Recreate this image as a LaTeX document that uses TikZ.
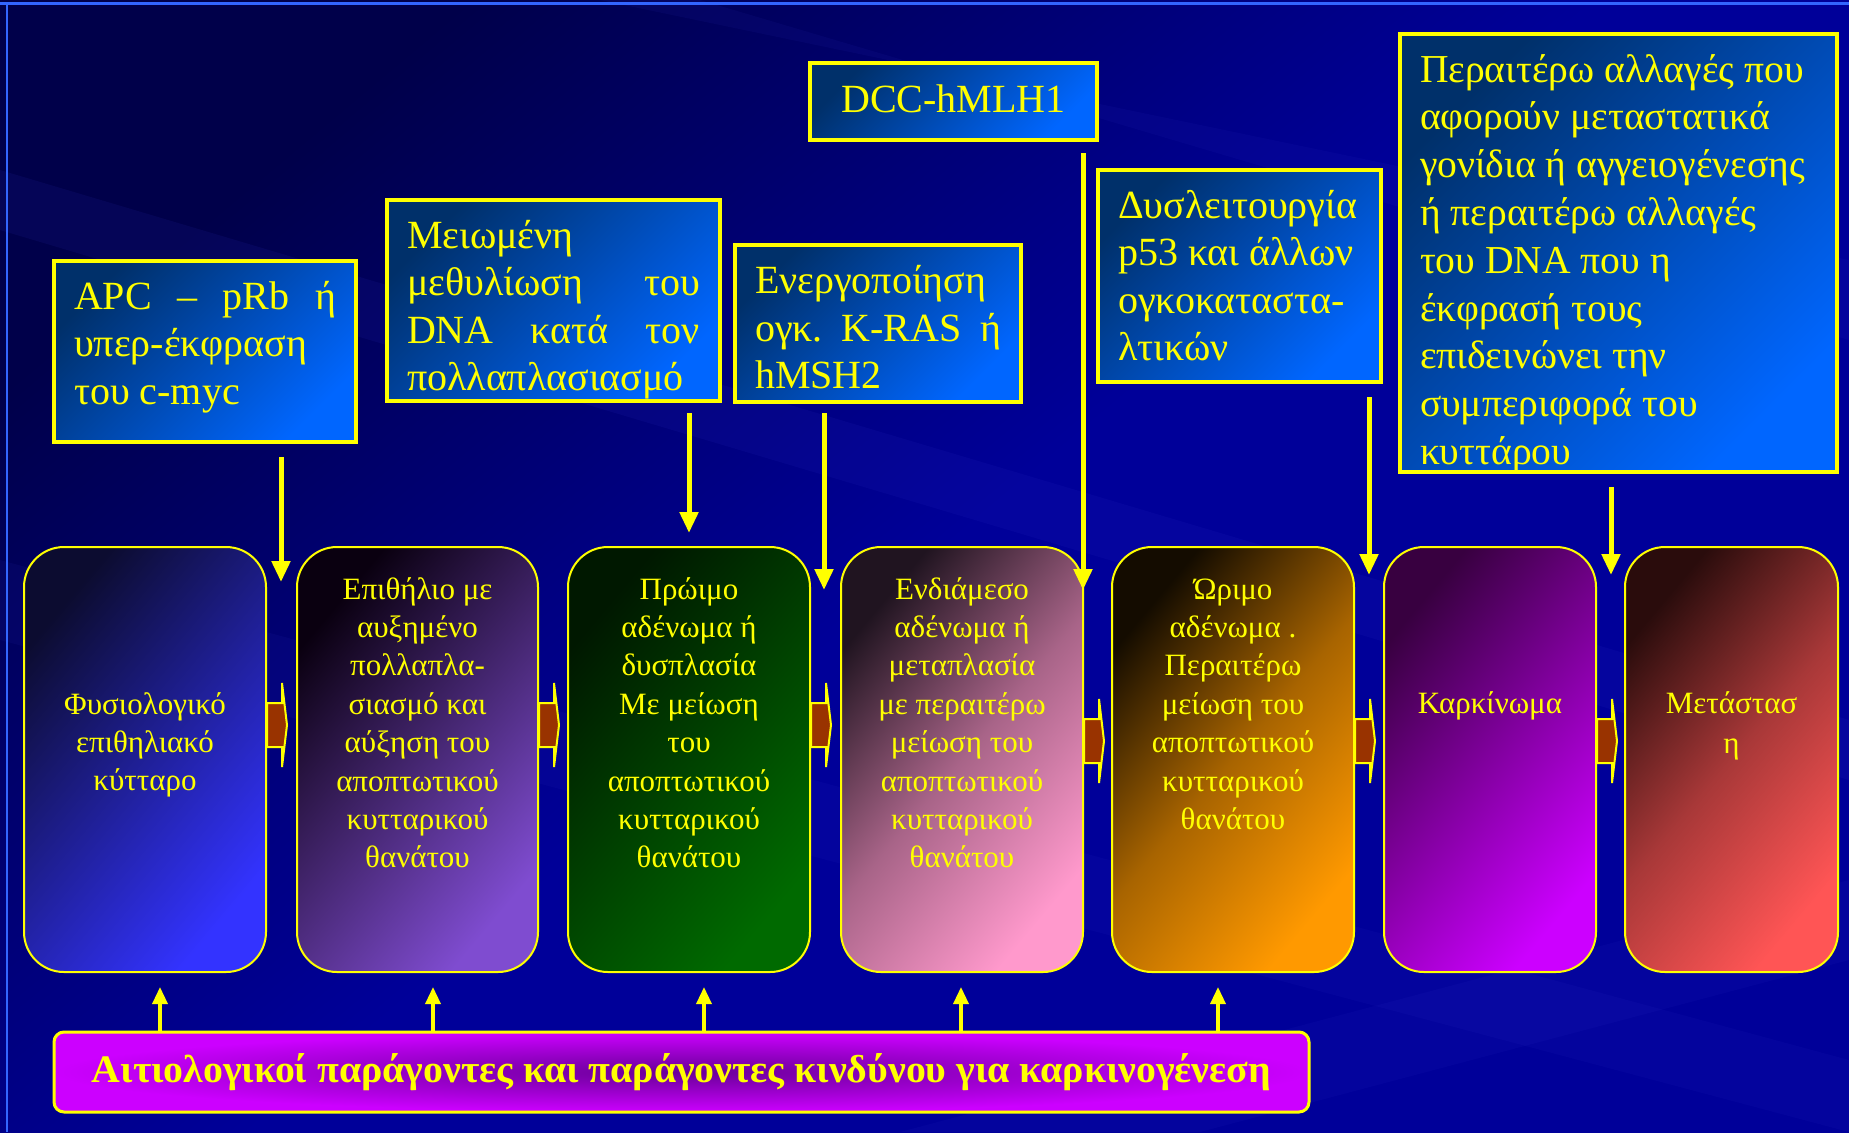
\documentclass[tikz,border=0pt]{standalone}
\usepackage{fontspec}
\setmainfont{Liberation Serif}
\usepackage{graphicx}
\usetikzlibrary{arrows.meta,calc}
\hyphenpenalty=10000
\definecolor{yel}{HTML}{FFFF00}
\definecolor{bgmain}{HTML}{000099}
\definecolor{bgdark}{HTML}{00004A}
\definecolor{bgband}{HTML}{3A3AD0}
\definecolor{frameblue}{HTML}{3366FF}
\definecolor{tbdark}{HTML}{00306A}
\definecolor{tblight}{HTML}{0066FF}
\definecolor{arrbrown}{HTML}{993300}
\definecolor{sAa}{HTML}{0C0C30}\definecolor{sAb}{HTML}{3333FF}
\definecolor{sBa}{HTML}{0A0010}\definecolor{sBb}{HTML}{7F4CD0}
\definecolor{sCa}{HTML}{001800}\definecolor{sCb}{HTML}{006A00}
\definecolor{sDa}{HTML}{201420}\definecolor{sDm}{HTML}{A86488}\definecolor{sDb}{HTML}{FF99CC}
\definecolor{sEa}{HTML}{140C00}\definecolor{sEm}{HTML}{A86400}\definecolor{sEb}{HTML}{FF9900}
\definecolor{sFa}{HTML}{380040}\definecolor{sFb}{HTML}{CC00FF}
\definecolor{sGa}{HTML}{2A0C0C}\definecolor{sGm}{HTML}{A83838}\definecolor{sGb}{HTML}{FF5555}
\definecolor{botin}{HTML}{6A0099}
\definecolor{botout}{HTML}{CC00FF}
\newcommand\tbtext[4]{\parbox[c][#2][t]{#1}{\vspace*{#3}#4}}
\newcommand\sttext[3]{\parbox[c][212.5pt][t]{#1}{\centering\vspace*{#2}\rule{0pt}{13pt}#3}}
\newcommand\blockarrow[2]{\filldraw[blockarr] ($(#1.east |- #2)+(0,-22)$) -- ++(15,0) -- ++(0,-20) -- ++(5,42) -- ++(-5,42) -- ++(0,-20) -- ++(-15,0) -- cycle;}
\begin{document}
\begin{tikzpicture}[x=0.5pt,y=-0.5pt,
 topbox/.style={draw=yel, line width=2pt, top color=tbdark, bottom color=tblight, shading angle=45, inner xsep=10pt, inner ysep=0pt, text=yel, font=\fontsize{20}{23.8}\selectfont},
 stagebox/.style={draw=yel, line width=1pt, rounded corners=20pt, inner sep=0pt, text=yel, font=\fontsize{15.5}{19.2}\selectfont, minimum height=212.5pt},
 stgA/.style={top color=sAa, bottom color=sAb, shading angle=50},
 stgB/.style={top color=sBa, bottom color=sBb, shading angle=50},
 stgC/.style={top color=sCa, bottom color=sCb, shading angle=50},
 stgD/.style={top color=sDa, bottom color=sDb, middle color=sDm, shading angle=50},
 stgE/.style={top color=sEa, bottom color=sEb, middle color=sEm, shading angle=50},
 stgF/.style={top color=sFa, bottom color=sFb, shading angle=50},
 stgG/.style={top color=sGa, bottom color=sGb, middle color=sGm, shading angle=50},
 blockarr/.style={draw=yel, line width=1pt, fill=arrbrown},
 downarr/.style={draw=yel, line width=2.5pt, -{Triangle[length=10.5pt,width=9pt]}},
 uparr/.style={draw=yel, line width=1.7pt, -{Triangle[length=8.5pt,width=7.5pt]}},
 botbox/.style={draw=yel, line width=1.5pt, rounded corners=5pt, inner sep=0pt, minimum width=627.5pt, minimum height=40pt, inner color=botin, outer color=botout, text=yel, font=\fontsize{19.5}{22}\selectfont}]

\useasboundingbox (0,0) rectangle (1849,1132);
% background
\shade[top color=bgdark, bottom color=bgmain, middle color=bgmain, shading angle=40] (0,0) rectangle (1849,1132);
\fill[bgband, opacity=0.10] (0,170) -- (0,230) -- (1849,780) -- (1849,720) -- cycle;
\fill[bgband, opacity=0.08] (600,0) -- (700,0) -- (1849,340) -- (1849,260) -- cycle;
\fill[bgband, opacity=0.08] (0,560) -- (0,640) -- (1849,1132) -- (1849,1060) -- cycle;
\fill[bgband, opacity=0.08] (900,1132) -- (1849,880) -- (1849,960) -- (1200,1132) -- cycle;
\draw[frameblue, line width=1.5pt] (0,3) -- (1849,3);
\draw[frameblue, line width=1pt] (7,3) -- (7,1132);

% top boxes
\node[topbox, minimum width=151pt, minimum height=90.5pt] (apc) at (205,351.5)
 {\tbtext{131pt}{90.5pt}{7pt}{\rule{0pt}{17pt}APC\hfill–\hfill pRb\hfill ή\\\mbox{υπερ-έκφραση}\\\mbox{του c-myc}}};
\node[topbox, minimum width=166.5pt, minimum height=100.5pt] (meth) at (553.5,300.5)
 {\tbtext{146.5pt}{100.5pt}{7pt}{\rule{0pt}{17pt}Μειωμένη\\ μεθυλίωση\hfill του\\ DNA\hfill κατά\hfill τον\\ \mbox{πολλαπλασιασμό}}};
\node[topbox, minimum width=143.5pt, minimum height=38.5pt] (dcc) at (953.5,101.5)
 {\tbtext{123.5pt}{38.5pt}{7.5pt}{\centering\rule{0pt}{17pt}DCC-hMLH1}};
\node[topbox, minimum width=143pt, minimum height=78.5pt] (kras) at (878,323)
 {\tbtext{123pt}{78.5pt}{7.5pt}{\rule{0pt}{17pt}Ενεργοποίηση\\ ογκ.\hfill K-RAS\hfill ή\\ hMSH2}};
\node[topbox, minimum width=141.5pt, minimum height=106pt] (p53) at (1239.5,276)
 {\tbtext{121.5pt}{106pt}{7pt}{\rule{0pt}{17pt}\mbox{Δυσλειτουργία}\\ \mbox{p53 και άλλων}\\ \mbox{ογκοκαταστα-}\\ λτικών}};
\node[topbox, minimum width=218.5pt, minimum height=219pt, font=\fontsize{19.8}{23.9}\selectfont] (meta) at (1618.5,253)
 {\tbtext{198.5pt}{219pt}{7pt}{\rule{0pt}{17pt}\mbox{Περαιτέρω αλλαγές που}\\ \mbox{αφορούν μεταστατικά}\\ \mbox{γονίδια ή αγγειογένεσης}\\ \mbox{ή περαιτέρω αλλαγές}\\ \mbox{του DNA που η}\\ \mbox{έκφρασή τους}\\ \mbox{επιδεινώνει την}\\ \mbox{συμπεριφορά του}\\ \mbox{κυττάρου}}};

% stage boxes
\node[stagebox, stgA, minimum width=121pt] (b1) at (145,759.5)
 {\sttext{121pt}{70.5pt}{Φυσιολογικό\\ επιθηλιακό\\ κύτταρο}};
\node[stagebox, stgB, minimum width=120.5pt] (b2) at (417.5,759.5)
 {\sttext{120.5pt}{13pt}{Επιθήλιο με\\ αυξημένο\\ πολλαπλα-\\ σιασμό και\\ αύξηση του\\ αποπτωτικού\\ κυτταρικού\\ θανάτου}};
\node[stagebox, stgC, minimum width=121pt] (b3) at (689,759.5)
 {\sttext{121pt}{13pt}{Πρώιμο\\ αδένωμα ή\\ δυσπλασία\\ Με μείωση\\ του\\ αποπτωτικού\\ κυτταρικού\\ θανάτου}};
\node[stagebox, stgD, minimum width=121pt] (b4) at (962,759.5)
 {\sttext{121pt}{13pt}{Ενδιάμεσο\\ αδένωμα ή\\ μεταπλασία\\ με περαιτέρω\\ μείωση του\\ αποπτωτικού\\ κυτταρικού\\ θανάτου}};
\node[stagebox, stgE, minimum width=121pt] (b5) at (1233,759.5)
 {\sttext{121pt}{13pt}{Ώριμο\\ αδένωμα .\\ Περαιτέρω\\ μείωση του\\ αποπτωτικού\\ κυτταρικού\\ θανάτου}};
\node[stagebox, stgF, minimum width=106pt] (b6) at (1490,759.5)
 {\sttext{106pt}{70pt}{Καρκίνωμα}};
\node[stagebox, stgG, minimum width=106.5pt] (b7) at (1731.5,759.5)
 {\sttext{106.5pt}{70pt}{Μετάστασ\\[1pt] η}};

% block arrows between stages
\coordinate (ya) at (0,725);
\coordinate (yb) at (0,741);
\blockarrow{b1}{ya}
\blockarrow{b2}{ya}
\blockarrow{b3}{ya}
\blockarrow{b4}{yb}
\blockarrow{b5}{yb}
\blockarrow{b6}{yb}

% down arrows
\coordinate (d1s) at (281,457);  \coordinate (d1e) at (281,582);
\coordinate (d2s) at (689,413);  \coordinate (d2e) at (689,533);
\coordinate (d3s) at (824,413);  \coordinate (d3e) at (824,590);
\coordinate (d4s) at (1083,153); \coordinate (d4e) at (1083,590);
\coordinate (d5s) at (1369,397); \coordinate (d5e) at (1369,575);
\coordinate (d6s) at (1611,487); \coordinate (d6e) at (1611,575);
\draw[downarr] (d1s) -- (d1e);
\draw[downarr] (d2s) -- (d2e);
\draw[downarr] (d3s) -- (d3e);
\draw[downarr] (d4s) -- (d4e);
\draw[downarr] (d5s) -- (d5e);
\draw[downarr] (d6s) -- (d6e);

% bottom box
\node[botbox] (bot) at (681.5,1072)
 {\resizebox{589.5pt}{\height}{\bfseries Αιτιολογικοί παράγοντες και παράγοντες κινδύνου για καρκινογένεση}};

% up arrows
\coordinate (u1) at (160,987);
\coordinate (u2) at (433,987);
\coordinate (u3) at (704,987);
\coordinate (u4) at (961,987);
\coordinate (u5) at (1218,987);
\draw[uparr] (bot.north -| u1) -- (u1);
\draw[uparr] (bot.north -| u2) -- (u2);
\draw[uparr] (bot.north -| u3) -- (u3);
\draw[uparr] (bot.north -| u4) -- (u4);
\draw[uparr] (bot.north -| u5) -- (u5);
\end{tikzpicture}
\end{document}
